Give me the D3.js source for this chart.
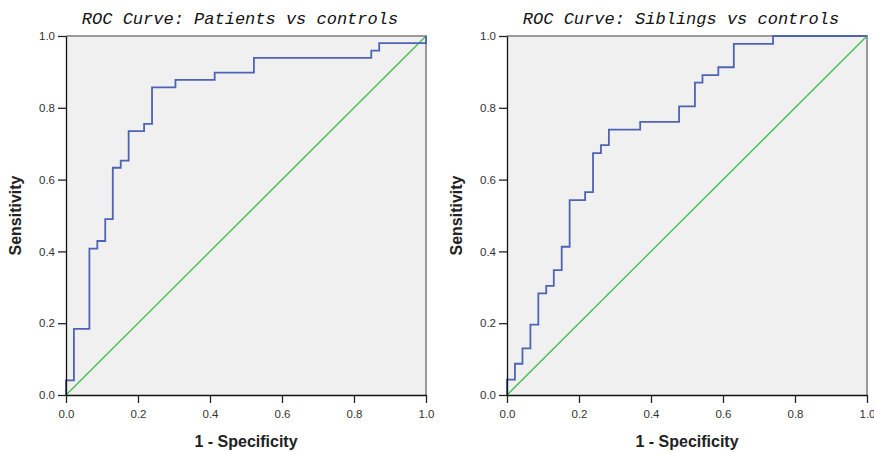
<!DOCTYPE html>
<html>
<head>
<meta charset="utf-8">
<script src="https://cdn.jsdelivr.net/npm/d3@7"></script>
<style>
  body { margin: 0; background: #fff; }
  svg { display: block; }
</style>
</head>
<body>
<div id="chart"></div>
<script>
// ROC step points (false positive rate, true positive rate)
const patientsFpr = [0, 0.022, 0.065, 0.087, 0.109, 0.130, 0.152, 0.174, 0.217, 0.239, 0.304, 0.413, 0.522, 0.848, 0.870, 1.0, 1.0];
const patientsTpr = [0, 0.041, 0.184, 0.408, 0.429, 0.490, 0.633, 0.653, 0.735, 0.755, 0.857, 0.878, 0.898, 0.939, 0.959, 0.980, 1.0];

const siblingsFpr = [0, 0.022, 0.043, 0.065, 0.087, 0.109, 0.130, 0.152, 0.174, 0.217, 0.239, 0.261, 0.283, 0.370, 0.478, 0.522, 0.543, 0.587, 0.630, 0.739, 1.0];
const siblingsTpr = [0, 0.043, 0.087, 0.130, 0.196, 0.283, 0.304, 0.348, 0.413, 0.543, 0.565, 0.674, 0.696, 0.739, 0.761, 0.804, 0.870, 0.891, 0.913, 0.978, 1.0];

const titles = ['ROC Curve: Patients vs controls', 'ROC Curve: Siblings vs controls'];
const tickValues = [0, 0.2, 0.4, 0.6, 0.8, 1.0];

const panels = [
    { title: titles[0], fpr: patientsFpr, tpr: patientsTpr, left: 66 },
    { title: titles[1], fpr: siblingsFpr, tpr: siblingsTpr, left: 507 }
];

const size = 360,
    plotTop = 36,
    plotH = 359;

const svg = d3.select('#chart')
    .append('svg')
    .attr('width', 874)
    .attr('height', 452);

panels.forEach(p => {
    const g = svg.append('g')
        .attr('transform', `translate(${p.left}, ${plotTop})`);

    const x = d3.scaleLinear().domain([0, 1]).range([0, size]);
    const y = d3.scaleLinear().domain([0, 1]).range([plotH, 0]);

    g.append('rect')
        .attr('width', size)
        .attr('height', plotH)
        .attr('fill', '#f0f0f0');

    // top and right frame
    g.append('path')
        .attr('d', `M0,0H${size}V${plotH}`)
        .attr('fill', 'none')
        .attr('stroke', '#9a9a9a')
        .attr('stroke-width', 2);

    // reference diagonal
    g.append('line')
        .attr('x1', x(0)).attr('y1', y(0))
        .attr('x2', x(1)).attr('y2', y(1))
        .attr('stroke', '#3fbf4a')
        .attr('stroke-width', 1.3);

    const pts = p.fpr.map((f, i) => [f, p.tpr[i]]);

    const line = d3.line()
        .x(d => x(d[0]))
        .y(d => y(d[1]))
        .curve(d3.curveStepBefore);

    g.append('path')
        .datum(pts)
        .attr('fill', 'none')
        .attr('stroke', '#4d63b5')
        .attr('stroke-width', 1.8)
        .attr('d', line);

    const xAxis = g.append('g')
        .attr('transform', `translate(0, ${plotH})`)
        .call(d3.axisBottom(x).tickValues(tickValues).tickFormat(d3.format('.1f')).tickSize(8).tickSizeOuter(0));

    const yAxis = g.append('g')
        .call(d3.axisLeft(y).tickValues(tickValues).tickFormat(d3.format('.1f')).tickSize(8).tickSizeOuter(0));

    [xAxis, yAxis].forEach(a => {
        a.select('.domain').attr('stroke', '#111').attr('stroke-width', 1.3);
        a.selectAll('.tick line').attr('stroke', '#222').attr('stroke-width', 1.3);
        a.selectAll('.tick text')
            .attr('fill', '#333')
            .style('font-family', 'Liberation Sans, Arial, sans-serif')
            .style('font-size', '11.5px');
    });
    xAxis.selectAll('.tick text').attr('dy', '1.05em');
    yAxis.selectAll('.tick text').attr('x', -11);

    svg.append('text')
        .attr('x', p.left + size / 2 - 6)
        .attr('y', 24)
        .attr('text-anchor', 'middle')
        .style('font-family', 'Liberation Mono, monospace')
        .style('font-style', 'italic')
        .style('font-size', '17px')
        .attr('fill', '#111')
        .text(p.title);

    svg.append('text')
        .attr('x', p.left + size / 2)
        .attr('y', 447)
        .attr('text-anchor', 'middle')
        .style('font-family', 'Liberation Sans, Arial, sans-serif')
        .style('font-weight', 'bold')
        .style('font-size', '16px')
        .attr('fill', '#222')
        .text('1 - Specificity');

    svg.append('text')
        .attr('transform', `translate(${p.left - 45}, ${plotTop + plotH / 2}) rotate(-90)`)
        .attr('text-anchor', 'middle')
        .style('font-family', 'Liberation Sans, Arial, sans-serif')
        .style('font-weight', 'bold')
        .style('font-size', '16px')
        .attr('fill', '#222')
        .text('Sensitivity');
});
</script>
</body>
</html>
